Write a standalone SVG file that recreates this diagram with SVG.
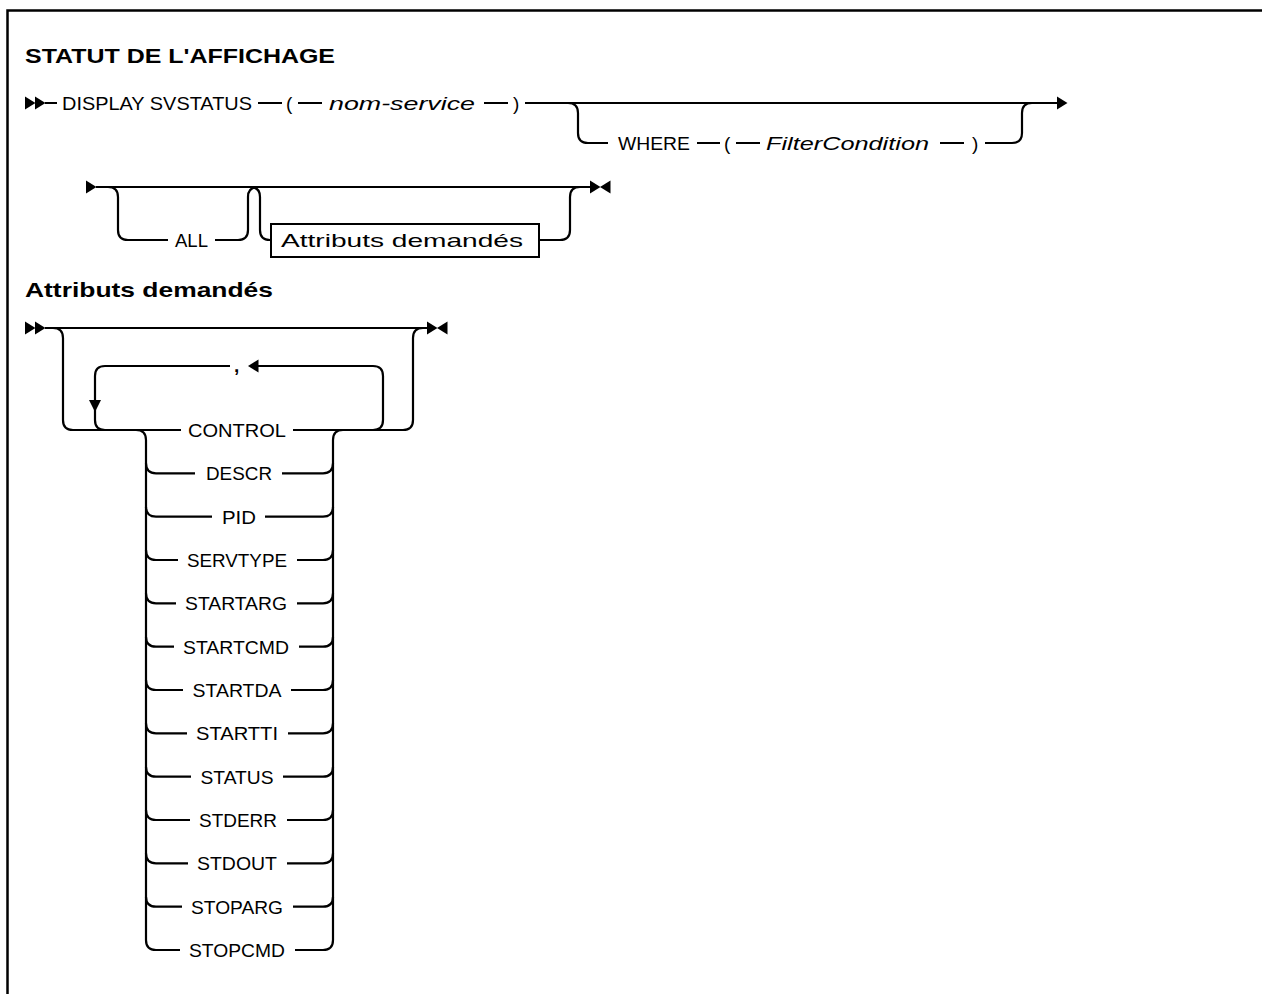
<svg xmlns="http://www.w3.org/2000/svg" xmlns:xlink="http://www.w3.org/1999/xlink" width="1262" height="994" viewBox="0 0 1262 994">
<style>
.t{font-family:"Liberation Sans",Arial,sans-serif;font-size:19px;fill:#000}
.i{font-style:italic}
.h{font-family:"Liberation Sans",Arial,sans-serif;font-size:21px;font-weight:bold;fill:#000}
.l{fill:none;stroke:#000;stroke-width:2.2}
.m{text-anchor:middle}
.a{fill:#000}
</style>
<defs>
<path id="arrR" class="a" d="M0 -6.5 L10.5 0 L0 6.5 Z"/>
<path id="arrL" class="a" d="M0 0 L10.5 -6.5 L10.5 6.5 Z"/>
<path id="arrD" class="a" d="M-6 0 L6 0 L0 12 Z"/>
</defs>
<rect width="1262" height="994" fill="#fff"/>
<path d="M7.5 994 V10.5 H1262" fill="none" stroke="#000" stroke-width="2.5"/>
<g id="title"><text class="h" x="25" y="63" textLength="310" lengthAdjust="spacingAndGlyphs">STATUT DE L'AFFICHAGE</text></g>
<g id="heading2"><text class="h" x="25" y="297" textLength="248" lengthAdjust="spacingAndGlyphs">Attributs demandés</text></g>

<g id="connectors">
<!-- row 1 -->
<use xlink:href="#arrR" x="25" y="103"/><use xlink:href="#arrR" x="35" y="103"/>
<path class="l" d="M45 103 H57 M258 103 H282 M298 103 H322 M484 103 H508 M525 103 H1058"/>
<use xlink:href="#arrR" x="1057" y="103"/>
<path class="l" d="M568 103 Q578 103 578 113 V133 Q578 143 588 143 H608 M697 143 H720 M736 143 H760 M940 143 H964 M985 143 H1012 Q1022 143 1022 133 V113 Q1022 103 1032 103"/>
<!-- row 2 -->
<use xlink:href="#arrR" x="86" y="187"/>
<path class="l" d="M96 187 H592"/>
<use xlink:href="#arrR" x="590" y="187"/><use xlink:href="#arrL" x="600" y="187"/>
<path class="l" d="M108 187 Q118 187 118 197 V230 Q118 240 128 240 H168 M215 240 H238 Q248 240 248 230 V197 Q248 187 258 187"/>
<path class="l" d="M250 187 Q260 187 260 197 V230 Q260 240 270 240 H271 M539 240 H560 Q570 240 570 230 V197 Q570 187 580 187"/>
<!-- row 3 -->
<use xlink:href="#arrR" x="25" y="328"/><use xlink:href="#arrR" x="35" y="328"/>
<path class="l" d="M45 328 H428"/>
<use xlink:href="#arrR" x="427" y="328"/><use xlink:href="#arrL" x="437" y="328"/>
<path class="l" d="M53 328 Q63 328 63 338 V420 Q63 430 73 430 H181 M293 430 H403 Q413 430 413 420 V338 Q413 328 423 328"/>
<path class="l" d="M323 430 H373 Q383 430 383 420 V376 Q383 366 373 366 H258 M230 366 H105 Q95 366 95 376 V420 Q95 430 105 430"/>
<use xlink:href="#arrL" x="248" y="366"/>
<use xlink:href="#arrD" x="95" y="400"/>
<path class="l" d="M136 430 Q146 430 146 440 V940 Q146 950 156 950 M343 430 Q333 430 333 440 V940 Q333 950 323 950"/>
<path class="l" d="M146 463.3 Q146 473.3 156 473.3 H195 M282 473.3 H323 Q333 473.3 333 463.3"/>
<path class="l" d="M146 506.7 Q146 516.7 156 516.7 H212 M265 516.7 H323 Q333 516.7 333 506.7"/>
<path class="l" d="M146 550 Q146 560 156 560 H178 M297 560 H323 Q333 560 333 550"/>
<path class="l" d="M146 593.3 Q146 603.3 156 603.3 H176 M297 603.3 H323 Q333 603.3 333 593.3"/>
<path class="l" d="M146 636.7 Q146 646.7 156 646.7 H174 M299 646.7 H323 Q333 646.7 333 636.7"/>
<path class="l" d="M146 680 Q146 690 156 690 H183 M291 690 H323 Q333 690 333 680"/>
<path class="l" d="M146 723.3 Q146 733.3 156 733.3 H187 M288 733.3 H323 Q333 733.3 333 723.3"/>
<path class="l" d="M146 766.7 Q146 776.7 156 776.7 H191 M283 776.7 H323 Q333 776.7 333 766.7"/>
<path class="l" d="M146 810 Q146 820 156 820 H190 M287 820 H323 Q333 820 333 810"/>
<path class="l" d="M146 853.3 Q146 863.3 156 863.3 H188 M287 863.3 H323 Q333 863.3 333 853.3"/>
<path class="l" d="M146 896.7 Q146 906.7 156 906.7 H182 M293 906.7 H323 Q333 906.7 333 896.7"/>
<path class="l" d="M156 950 H180 M295 950 H323"/>
</g>

<g id="n-display"><text class="t" x="62" y="110" textLength="190" lengthAdjust="spacingAndGlyphs">DISPLAY SVSTATUS</text></g>
<g id="n-lp1"><text class="t" x="286" y="110">(</text></g>
<g id="n-nomservice"><text class="t i" x="329" y="110" textLength="146" lengthAdjust="spacingAndGlyphs">nom-service</text></g>
<g id="n-rp1"><text class="t" x="513" y="110">)</text></g>
<g id="n-where"><text class="t" x="618" y="150" textLength="72" lengthAdjust="spacingAndGlyphs">WHERE</text></g>
<g id="n-lp2"><text class="t" x="724" y="150">(</text></g>
<g id="n-filter"><text class="t i" x="766" y="150" textLength="163" lengthAdjust="spacingAndGlyphs">FilterCondition</text></g>
<g id="n-rp2"><text class="t" x="972" y="150">)</text></g>
<g id="n-all"><text class="t" x="175" y="247" textLength="33" lengthAdjust="spacingAndGlyphs">ALL</text></g>
<g id="n-attr-ref"><rect x="271" y="224" width="268" height="33" fill="#fff" stroke="#000" stroke-width="2"/><text class="t" x="281" y="247" textLength="242" lengthAdjust="spacingAndGlyphs">Attributs demandés</text></g>
<g id="n-comma"><text class="t" x="234" y="372" style="font-weight:bold">,</text></g>
<g id="n-control"><text class="t m" x="237" y="437" textLength="98" lengthAdjust="spacingAndGlyphs">CONTROL</text></g>
<g id="n-descr"><text class="t m" x="239" y="480.3" textLength="66" lengthAdjust="spacingAndGlyphs">DESCR</text></g>
<g id="n-pid"><text class="t m" x="239" y="523.7" textLength="34" lengthAdjust="spacingAndGlyphs">PID</text></g>
<g id="n-servtype"><text class="t m" x="237" y="567" textLength="100" lengthAdjust="spacingAndGlyphs">SERVTYPE</text></g>
<g id="n-startarg"><text class="t m" x="236" y="610.3" textLength="102" lengthAdjust="spacingAndGlyphs">STARTARG</text></g>
<g id="n-startcmd"><text class="t m" x="236" y="653.7" textLength="106" lengthAdjust="spacingAndGlyphs">STARTCMD</text></g>
<g id="n-startda"><text class="t m" x="237" y="697" textLength="89" lengthAdjust="spacingAndGlyphs">STARTDA</text></g>
<g id="n-startti"><text class="t m" x="237" y="740.3" textLength="82" lengthAdjust="spacingAndGlyphs">STARTTI</text></g>
<g id="n-status"><text class="t m" x="237" y="783.7" textLength="73" lengthAdjust="spacingAndGlyphs">STATUS</text></g>
<g id="n-stderr"><text class="t m" x="238" y="827" textLength="78" lengthAdjust="spacingAndGlyphs">STDERR</text></g>
<g id="n-stdout"><text class="t m" x="237" y="870.3" textLength="80" lengthAdjust="spacingAndGlyphs">STDOUT</text></g>
<g id="n-stoparg"><text class="t m" x="237" y="913.7" textLength="92" lengthAdjust="spacingAndGlyphs">STOPARG</text></g>
<g id="n-stopcmd"><text class="t m" x="237" y="957" textLength="96" lengthAdjust="spacingAndGlyphs">STOPCMD</text></g>
</svg>
